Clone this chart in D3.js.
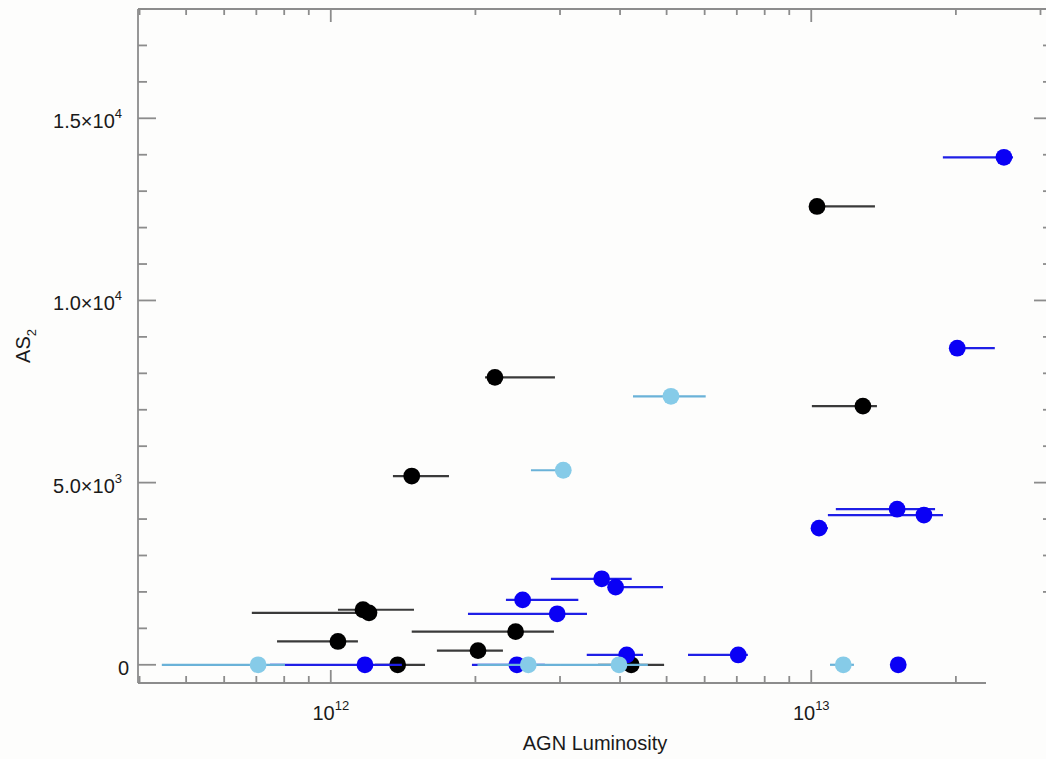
<!DOCTYPE html>
<html>
<head>
<meta charset="utf-8">
<script src="https://cdn.jsdelivr.net/npm/d3@7"></script>
<style>
  html, body { margin: 0; padding: 0; background: #fdfdfc; }
  svg { display: block; font-family: "Liberation Sans", Arial, Helvetica, sans-serif; }
</style>
</head>
<body>
<svg id="chart" width="1046" height="759"></svg>
<script>
// ---------------- data ----------------
// Black group
const blackLum  = [1.028e13, 2.196e12, 1.474e12, 1.281e13, 1.167e12, 1.201e12, 1.035e12, 2.425e12, 2.025e12, 1.378e12, 4.22e12];
const blackAS2  = [12580, 7890, 5180, 7100, 1510, 1425, 640, 910, 390, 0, 0];
const blackLo   = [0.998e13, 2.094e12, 1.347e12, 1.003e13, 1.035e12, 6.85e11, 7.73e11, 1.474e12, 1.663e12, 1.236e12, 3.6e12];
const blackHi   = [1.357e13, 2.928e12, 1.762e12, 1.37e13, 1.49e12, 1.236e12, 1.139e12, 2.914e12, 2.282e12, 1.571e12, 4.94e12];

// Blue group
const blueLum = [2.518e13, 2.013e13, 1.038e13, 1.509e13, 1.716e13, 3.663e12, 3.916e12, 2.508e12, 2.96e12, 4.13e12, 7.047e12, 1.517e13, 1.178e12, 2.44e12];
const blueAS2 = [13930, 8690, 3750, 4270, 4110, 2360, 2130, 1780, 1400, 270, 270, 0, 0, 0];
const blueLo  = [1.879e13, 1.945e13, 1.005e13, 1.125e13, 1.083e13, 2.872e12, 3.776e12, 2.315e12, 1.93e12, 3.41e12, 5.54e12, 1.517e13, 7.47e11, 1.967e12];
const blueHi  = [2.63e13, 2.41e13, 1.083e13, 1.81e13, 1.88e13, 4.23e12, 4.915e12, 3.275e12, 3.414e12, 4.465e12, 7.38e12, 1.517e13, 1.406e12, 2.79e12];

// Light-blue group
const lightLum = [5.105e12, 3.047e12, 7.06e11, 2.577e12, 3.98e12, 1.166e13];
const lightAS2 = [7370, 5340, 0, 0, 0, 0];
const lightLo  = [4.256e12, 2.61e12, 4.45e11, 2.02e12, 3.0e12, 1.094e13];
const lightHi  = [6.03e12, 3.1e12, 8.03e11, 3.0e12, 4.57e12, 1.227e13];

// Axes
const xDomain = [3.97e11, 3.17e13];
const yDomain = [-500, 18000];
const xMajorTicks = [1e12, 1e13];
const xTickExp = ["12", "13"];
const yMajorTicks = [0, 5000, 10000, 15000];
const yTickMant = ["0", "5.0", "1.0", "1.5"];
const yTickExp  = ["", "3", "4", "4"];
const xTitle = "AGN Luminosity";
const yTitle = "AS";
const yTitleSub = "2";

// ---------------- layout ----------------
const svg = d3.select("#chart");
const L = 138, R = 1052, T = 9, B = 683;
const x = d3.scaleLog().domain(xDomain).range([L, R]);
const y = d3.scaleLinear().domain(yDomain).range([B, T]);

const axisColor = "#8c8c8c";
const textColor = "#1a1a1a";

// minor x ticks
const xMinor = [];
for (let e = 11; e <= 13; e++) {
  for (let m = 2; m <= 9; m++) {
    const v = m * Math.pow(10, e);
    if (v > xDomain[0] && v < xDomain[1]) xMinor.push(v);
  }
}
const yMinor = d3.range(0, 18001, 1000).filter(v => !yMajorTicks.includes(v));
yMinor.unshift(-0); // nothing extra

// groups
const g = svg.append("g");

function group(lum, as2, lo, hi, fill, line) {
  const data = lum.map((d, i) => ({ lum: d, as2: as2[i], lo: lo[i], hi: hi[i] }));
  const gg = g.append("g");
  gg.selectAll("line.err").data(data).enter().append("line")
    .attr("x1", d => x(d.lo)).attr("x2", d => x(d.hi))
    .attr("y1", d => y(d.as2)).attr("y2", d => y(d.as2))
    .attr("stroke", line).attr("stroke-width", 2.2);
  gg.selectAll("circle").data(data).enter().append("circle")
    .attr("cx", d => x(d.lum)).attr("cy", d => y(d.as2))
    .attr("r", 8.4).attr("fill", fill);
}
group(blackLum, blackAS2, blackLo, blackHi, "#000000", "#3a3a3a");
group(blueLum, blueAS2, blueLo, blueHi, "#0a00f5", "#1f1fe6");
group(lightLum, lightAS2, lightLo, lightHi, "#86cbe8", "#6ab2d8");

// ---------------- axes ----------------
const ax = svg.append("g").attr("stroke", axisColor).attr("stroke-width", 1.8).attr("fill", "none");
// frame lines
ax.append("line").attr("x1", L).attr("x2", L).attr("y1", T).attr("y2", B);
ax.append("line").attr("x1", L).attr("x2", R).attr("y1", B).attr("y2", B);
ax.append("line").attr("x1", L).attr("x2", R).attr("y1", T).attr("y2", T);
ax.append("line").attr("x1", R).attr("x2", R).attr("y1", T).attr("y2", B);

// bottom & top ticks
xMajorTicks.forEach(v => {
  ax.append("line").attr("x1", x(v)).attr("x2", x(v)).attr("y1", B).attr("y2", B - 13);
  ax.append("line").attr("x1", x(v)).attr("x2", x(v)).attr("y1", T).attr("y2", T + 13);
});
xMinor.forEach(v => {
  ax.append("line").attr("x1", x(v)).attr("x2", x(v)).attr("y1", B).attr("y2", B - 7);
  ax.append("line").attr("x1", x(v)).attr("x2", x(v)).attr("y1", T).attr("y2", T + 6);
});
// left & right ticks
yMajorTicks.forEach(v => {
  ax.append("line").attr("x1", L).attr("x2", L + 18).attr("y1", y(v)).attr("y2", y(v));
  ax.append("line").attr("x1", R).attr("x2", R - 18).attr("y1", y(v)).attr("y2", y(v));
});
d3.range(1000, 18001, 1000).filter(v => v % 5000 !== 0).forEach(v => {
  ax.append("line").attr("x1", L).attr("x2", L + 9).attr("y1", y(v)).attr("y2", y(v));
  ax.append("line").attr("x1", R).attr("x2", R - 9).attr("y1", y(v)).attr("y2", y(v));
});

// blank patch at lower right (as in the reference)
svg.append("rect").attr("x", 986).attr("y", 608).attr("width", 80).attr("height", 160).attr("fill", "#fdfdfc");

// ---------------- labels ----------------
const lab = svg.append("g").attr("fill", textColor).attr("font-size", 20);
xMajorTicks.forEach((v, i) => {
  const t = lab.append("text").attr("x", x(v)).attr("y", 720).attr("text-anchor", "middle");
  t.append("tspan").text("10");
  t.append("tspan").attr("dy", -10).attr("font-size", 13).text(xTickExp[i]);
});
yMajorTicks.forEach((v, i) => {
  const t = lab.append("text").attr("y", y(v) + 10).attr("text-anchor", "end");
  if (yTickExp[i] === "") {
    t.attr("x", 129).text(yTickMant[i]);
  } else {
    t.attr("x", 122);
    t.append("tspan").text(yTickMant[i] + "\u00d710");
    t.append("tspan").attr("dy", -10).attr("font-size", 13).text(yTickExp[i]);
  }
});
lab.append("text").attr("x", (L + R) / 2).attr("y", 750).attr("text-anchor", "middle").text(xTitle);
const yt = lab.append("text").attr("transform", `translate(30,${(T + B) / 2}) rotate(-90)`).attr("text-anchor", "middle");
yt.append("tspan").text(yTitle);
yt.append("tspan").attr("dy", 6).attr("font-size", 13).text(yTitleSub);
</script>
</body>
</html>
